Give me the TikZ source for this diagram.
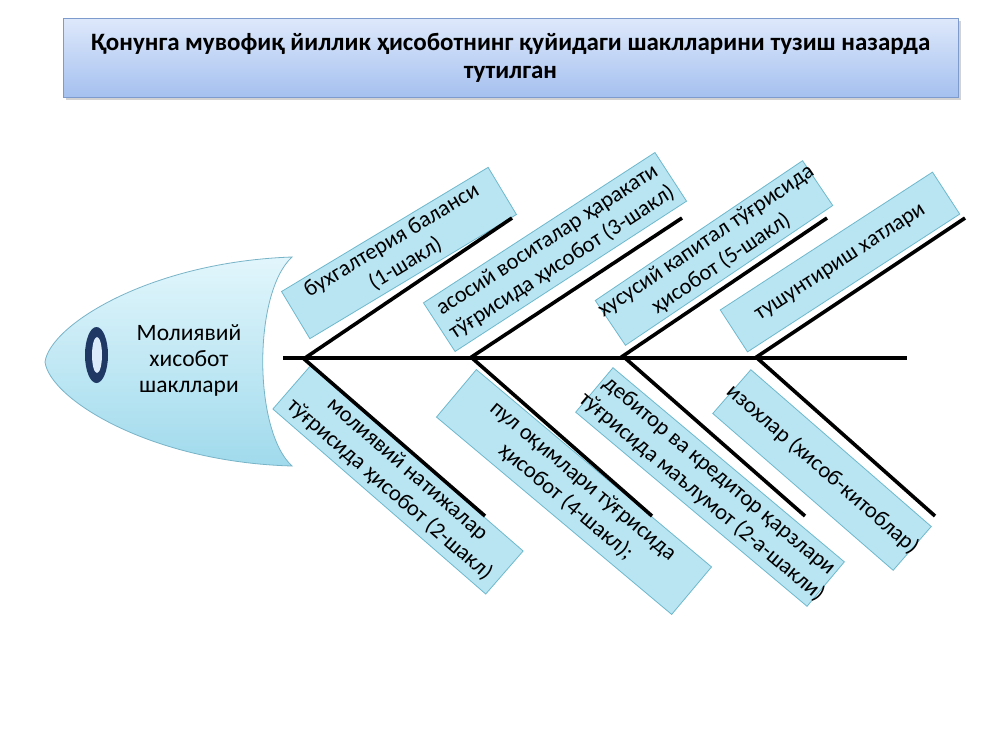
\documentclass[tikz,border=0pt]{standalone}
\usepackage{fontspec}
\setmainfont{Carlito}
\usetikzlibrary{shadows}
\definecolor{boxfill}{RGB}{185,229,243}
\definecolor{boxline}{RGB}{110,184,204}
\definecolor{headtop}{RGB}{226,246,252}
\definecolor{headbot}{RGB}{160,218,236}
\definecolor{headline}{RGB}{120,180,200}
\definecolor{titletop}{RGB}{222,232,251}
\definecolor{titlebot}{RGB}{165,193,239}
\definecolor{titleline}{RGB}{125,155,205}
\definecolor{eyedark}{RGB}{31,56,100}
\definecolor{eyelight}{RGB}{220,235,250}
\newcommand{\fishlabel}[7]{%
  \node[lblbox, minimum width=#4, minimum height=#5, rotate=#6] (#1) at (#2,#3)
    {\makebox[0pt]{\begin{tabular}{@{}c@{}}#7\end{tabular}}};}
\begin{document}
\begin{tikzpicture}[x=1pt,y=-1pt,
  lblbox/.style={draw=boxline, fill=boxfill, line width=0.8pt, inner sep=0pt,
    font=\fontsize{22.5}{27}\selectfont},
  bone/.style={line width=3.6pt, black},
  titlebox/.style={draw=titleline, line width=0.8pt, top color=titletop, bottom color=titlebot,
    minimum width=895, minimum height=79, inner sep=0pt, align=center,
    font=\fontsize{25}{28}\selectfont\bfseries,
    drop shadow={shadow xshift=3pt, shadow yshift=-3pt, opacity=0.35}},
  headtext/.style={align=center, font=\fontsize{23.5}{26}\selectfont}
]
\useasboundingbox (0,0) rectangle (1000,750);
\fill[white] (0,0) rectangle (1000,750);

% title
\node[titlebox] (title) at (510.5,57.5)
  {Қонунга мувофиқ йиллик ҳисоботнинг қуйидаги шаклларини тузиш назарда\\тутилган};

% fish head
\path[draw=headline, line width=0.8pt, top color=headtop, bottom color=headbot]
  (292,257) .. controls (150,262) and (50,325) .. (45,362)
  .. controls (50,399) and (150,462) .. (292,466)
  .. controls (253,430) and (253,293) .. (292,257) -- cycle;
\fill[eyedark] (96.5,355) ellipse [x radius=11.5, y radius=28];
\fill[eyelight] (97,355) ellipse [x radius=5, y radius=18];
\node[headtext] (head) at (189,360) {Молиявий\\хисобот\\шакллари};

% labels
\fishlabel{b1}{399}{253}{241}{55}{31}{бухгалтерия баланси\\(1-шакл)}
\fishlabel{b2}{555}{252}{276}{58}{33}{асосий воситалар ҳаракати\\тўғрисида ҳисобот (3-шакл)}
\fishlabel{b3}{714}{253}{250}{52}{34}{хусусий капитал тўғрисида\\ҳисобот (5-шакл)}
\fishlabel{b4}{840}{262}{253}{50}{33}{тушунтириш хатлари}
\fishlabel{b5}{398}{480}{282}{57}{-41}{молиявий натижалар\\тўғрисида ҳисобот (2-шакл)}
\fishlabel{b6}{574}{492}{307}{62}{-40}{пул оқимлари тўғрисида\\ҳисобот (4-шакл);}
\fishlabel{b7}{710}{487}{302}{58}{-40}{дебитор ва кредитор қарзлари\\тўғрисида маълумот (2-а-шакли)}
\fishlabel{b8}{822}{470}{239}{58}{-41}{изохлар (хисоб-китоблар)}

% spine and bones
\coordinate (s0) at (283,358);
\coordinate (s1) at (907,358);
\coordinate (a1) at (305,358); \coordinate (e1) at (512,218);
\coordinate (a2) at (470,358); \coordinate (e2) at (682,218);
\coordinate (a3) at (620,358); \coordinate (e3) at (827,218);
\coordinate (a4) at (755,358); \coordinate (e4) at (965,218);
\coordinate (c1) at (303,358); \coordinate (f1) at (485,516);
\coordinate (c2) at (472,358); \coordinate (f2) at (652,516);
\coordinate (c3) at (625,358); \coordinate (f3) at (805,516);
\coordinate (c4) at (757,358); \coordinate (f4) at (935,516);
\draw[bone] (s0) -- (s1);
\foreach \i in {1,2,3,4} {
  \draw[bone] (a\i) -- (e\i);
  \draw[bone] (c\i) -- (f\i);
}
\end{tikzpicture}
\end{document}
